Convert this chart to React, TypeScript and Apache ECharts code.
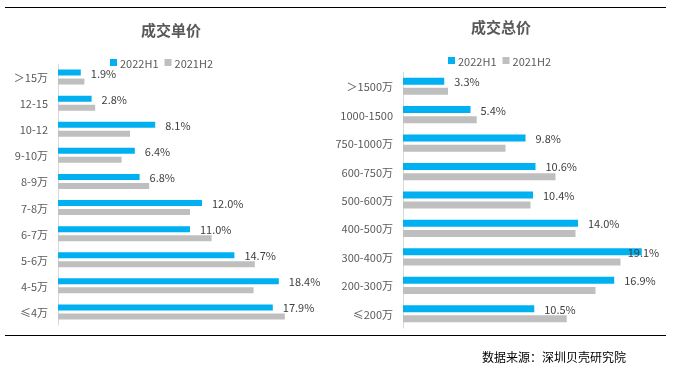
import React, { useEffect, useRef } from "react";
import * as echarts from "echarts";

const unitCats = ["＞15万", "12-15", "10-12", "9-10万", "8-9万", "7-8万", "6-7万", "5-6万", "4-5万", "≤4万"];
const unit2022H1 = [1.9, 2.8, 8.1, 6.4, 6.8, 12.0, 11.0, 14.7, 18.4, 17.9];
const unit2021H2 = [2.2, 3.1, 6.0, 5.3, 7.6, 11.0, 12.8, 16.4, 16.3, 18.9];

const totalCats = ["＞1500万", "1000-1500", "750-1000万", "600-750万", "500-600万", "400-500万", "300-400万", "200-300万", "≤200万"];
const total2022H1 = [3.3, 5.4, 9.8, 10.6, 10.4, 14.0, 19.1, 16.9, 10.5];
const total2021H2 = [3.6, 5.9, 8.2, 12.2, 10.2, 13.8, 17.4, 15.4, 13.1];

const seriesNames = ["2022H1", "2021H2"];
const titles = ["成交单价", "成交总价"];
const source = "数据来源：深圳贝壳研究院";

const BLUE = "#00b0f0";
const GRAY = "#bfbfbf";
const FONT = "'Noto Sans CJK SC', 'Noto Sans', sans-serif";

export default function App() {
  const ref = useRef<HTMLDivElement>(null);
  useEffect(() => {
    if (!ref.current) return;
    const chart = echarts.init(ref.current, undefined, { renderer: "svg" });
    const labelFmt = (p: any) => Number(p.value).toFixed(1) + "%";
    const barLabel = {
      show: true,
      position: "right" as const,
      distance: 10,
      color: "#404040",
      fontSize: 11,
      fontFamily: FONT,
      formatter: labelFmt,
    };
    const totalBlue = total2022H1.map((v) => {
      if (v === Math.max(...total2022H1)) {
        return { value: v, label: { offset: [-24, 0] } };
      }
      return v;
    });
    const catLabel = {
      color: "#595959",
      fontSize: 11,
      margin: 10,
      fontFamily: FONT,
    };
    chart.setOption({
      animation: false,
      textStyle: { fontFamily: FONT },
      title: [
        {
          text: titles[0],
          left: 166,
          top: 17,
          textAlign: "center",
          textStyle: { fontSize: 15, fontWeight: "bold", color: "#595959", fontFamily: FONT },
        },
        {
          text: titles[1],
          left: 496,
          top: 14,
          textAlign: "center",
          textStyle: { fontSize: 15, fontWeight: "bold", color: "#595959", fontFamily: FONT },
        },
      ],
      legend: [
        {
          data: seriesNames,
          left: 105,
          top: 52,
          icon: "rect",
          itemWidth: 7,
          itemHeight: 7,
          itemGap: 6,
          textStyle: { fontSize: 11, color: "#595959", fontFamily: FONT, padding: [0, 0, 0, -2] },
        },
        {
          data: seriesNames.map((n) => ({ name: n + " " })),
          left: 443,
          top: 50,
          icon: "rect",
          itemWidth: 7,
          itemHeight: 7,
          itemGap: 6,
          formatter: (n: string) => n.trim(),
          textStyle: { fontSize: 11, color: "#595959", fontFamily: FONT, padding: [0, 0, 0, -2] },
        },
      ],
      grid: [
        { left: 58, top: 64, width: 240, height: 261 },
        { left: 403, top: 72, width: 250, height: 256 },
      ],
      xAxis: [
        { type: "value", gridIndex: 0, min: 0, max: 20, show: false },
        { type: "value", gridIndex: 1, min: 0, max: 20, show: false },
      ],
      yAxis: [
        {
          type: "category",
          gridIndex: 0,
          data: unitCats,
          inverse: true,
          axisLine: { lineStyle: { color: "#d9d9d9" } },
          axisTick: { show: false },
          axisLabel: catLabel,
        },
        {
          type: "category",
          gridIndex: 1,
          data: totalCats,
          inverse: true,
          axisLine: { lineStyle: { color: "#d9d9d9" } },
          axisTick: { show: false },
          axisLabel: catLabel,
        },
      ],
      series: [
        {
          name: seriesNames[0],
          type: "bar",
          xAxisIndex: 0,
          yAxisIndex: 0,
          data: unit2022H1,
          barWidth: 6,
          barGap: "50%",
          itemStyle: { color: BLUE },
          label: barLabel,
        },
        {
          name: seriesNames[1],
          type: "bar",
          xAxisIndex: 0,
          yAxisIndex: 0,
          data: unit2021H2,
          barWidth: 6,
          barGap: "50%",
          itemStyle: { color: GRAY },
        },
        {
          name: seriesNames[0] + " ",
          type: "bar",
          xAxisIndex: 1,
          yAxisIndex: 1,
          data: totalBlue,
          barWidth: 7,
          barGap: "45%",
          itemStyle: { color: BLUE },
          label: barLabel,
        },
        {
          name: seriesNames[1] + " ",
          type: "bar",
          xAxisIndex: 1,
          yAxisIndex: 1,
          data: total2021H2,
          barWidth: 7,
          barGap: "45%",
          itemStyle: { color: GRAY },
        },
      ],
      graphic: [
        { type: "line", shape: { x1: 5, y1: 7.5, x2: 666, y2: 7.5 }, style: { stroke: "#000", lineWidth: 1 } },
        { type: "line", shape: { x1: 5, y1: 335.5, x2: 666, y2: 335.5 }, style: { stroke: "#000", lineWidth: 1 } },
        {
          type: "text",
          left: 482,
          top: 350,
          style: { text: source, fontSize: 12, fill: "#000", fontFamily: FONT },
        },
      ],
    });
    return () => chart.dispose();
  }, []);
  return <div ref={ref} style={{ position: "fixed", left: 0, top: 0, width: 686, height: 375 }} />;
}
